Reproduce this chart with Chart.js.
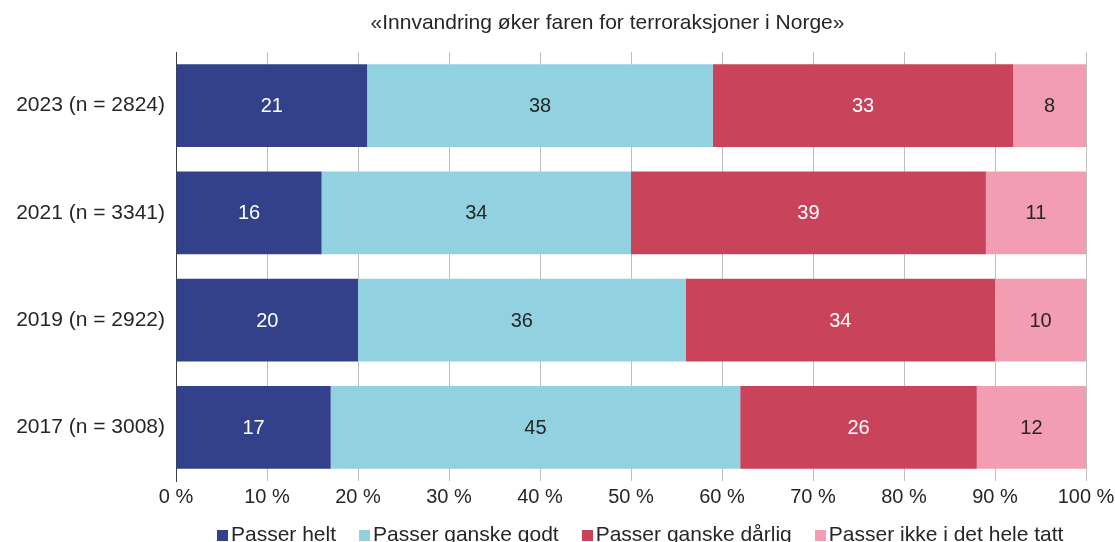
<!DOCTYPE html>
<html>
<head>
<meta charset="utf-8">
<script src="https://cdn.jsdelivr.net/npm/chart.js@4"></script>
<style>
html,body{margin:0;padding:0;background:#fff;overflow:hidden;}
#wrap{position:relative;width:1115px;height:542px;}
#title{position:absolute;left:0;top:9px;width:1215px;text-align:center;white-space:nowrap;font-family:"Liberation Sans",Arial,sans-serif;font-size:21px;line-height:25px;color:#262626;}
#legend{position:absolute;left:217px;top:522px;white-space:nowrap;font-family:"Liberation Sans",Arial,sans-serif;font-size:21px;line-height:24px;color:#262626;}
#legend span.item{margin-right:23px;}
#legend span.box{display:inline-block;width:11px;height:11px;margin-right:3px;vertical-align:baseline;}
</style>
</head>
<body>
<div id="wrap">
<canvas id="c" width="1115" height="542"></canvas>
<div id="title"></div>
<div id="legend"></div>
</div>
<script>
const title = "«Innvandring øker faren for terroraksjoner i Norge»";
const categories = ["2023 (n = 2824)", "2021 (n = 3341)", "2019 (n = 2922)", "2017 (n = 3008)"];
const seriesNames = ["Passer helt", "Passer ganske godt", "Passer ganske dårlig", "Passer ikke i det hele tatt"];
const passerHelt = [21, 16, 20, 17];
const passerGanskeGodt = [38, 34, 36, 45];
const passerGanskeDarlig = [33, 39, 34, 26];
const passerIkke = [8, 11, 10, 12];
const tickLabels = ["0 %", "10 %", "20 %", "30 %", "40 %", "50 %", "60 %", "70 %", "80 %", "90 %", "100 %"];

const colors = ["#33418A", "#92D1E0", "#C9435A", "#F29DB1"];
const labelColors = ["#ffffff", "#262626", "#ffffff", "#262626"];
const seriesValues = [passerHelt, passerGanskeGodt, passerGanskeDarlig, passerIkke];
const FONT = '"Liberation Sans", Arial, sans-serif';

document.getElementById('title').textContent = title;

const valueLabels = {
  id: 'valueLabels',
  afterDatasetsDraw(chart) {
    const ctx = chart.ctx;
    ctx.save();
    ctx.font = '20px ' + FONT;
    ctx.textAlign = 'center';
    ctx.textBaseline = 'middle';
    chart.data.datasets.forEach((ds, i) => {
      const meta = chart.getDatasetMeta(i);
      meta.data.forEach((el, j) => {
        const cx = (el.x + el.base) / 2;
        ctx.fillStyle = labelColors[i];
        ctx.fillText(String(ds.data[j]), cx, el.y + 1);
      });
    });
    ctx.restore();
  }
};

const chart = new Chart(document.getElementById('c'), {
  type: 'bar',
  data: {
    labels: categories,
    datasets: seriesValues.map((vals, i) => ({
      label: seriesNames[i],
      data: vals,
      backgroundColor: colors[i],
      borderWidth: 0,
      categoryPercentage: 1.0,
      barPercentage: 0.773
    }))
  },
  options: {
    indexAxis: 'y',
    responsive: false,
    animation: false,
    devicePixelRatio: 1,
    layout: { padding: { left: 0, right: 29, top: 52, bottom: 29 } },
    plugins: {
      legend: { display: false },
      tooltip: { enabled: false },
      title: { display: false }
    },
    scales: {
      x: {
        stacked: true,
        min: 0,
        max: 100,
        ticks: {
          stepSize: 10,
          color: '#262626',
          font: { family: FONT, size: 20 },
          padding: 4,
          maxRotation: 0,
          callback: (v) => tickLabels[Math.round(v / 10)]
        },
        grid: { color: '#BEBEBE', lineWidth: 1, drawTicks: false },
        border: { display: false },
        afterFit(scale) { scale.paddingRight = 0; scale.paddingLeft = 0; }
      },
      y: {
        stacked: true,
        ticks: {
          color: '#262626',
          font: { family: FONT, size: 21 },
          padding: 11
        },
        grid: { display: false, drawTicks: false },
        border: { display: true, color: '#404040', width: 1 },
        afterFit(scale) { scale.width = 176; }
      }
    }
  },
  plugins: [valueLabels]
});

const lg = document.getElementById('legend');
seriesNames.forEach((n, i) => {
  const it = document.createElement('span');
  it.className = 'item';
  const b = document.createElement('span');
  b.className = 'box';
  b.style.background = colors[i];
  it.appendChild(b);
  it.appendChild(document.createTextNode(n));
  lg.appendChild(it);
});
</script>
</body>
</html>
